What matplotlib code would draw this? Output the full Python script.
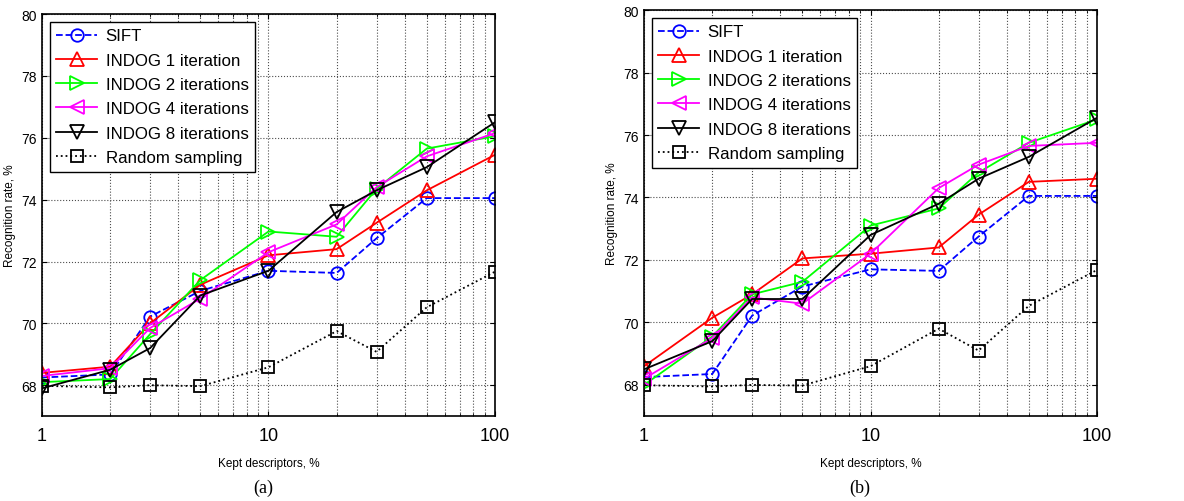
import numpy as np
import matplotlib
matplotlib.use('Agg')
import matplotlib.pyplot as plt
from matplotlib.ticker import LogLocator, NullFormatter, FixedLocator

# Kept descriptors (%)
kept = [1, 2, 3, 5, 10, 20, 30, 50, 100]

labels = ['SIFT', 'INDOG 1 iteration', 'INDOG 2 iterations',
          'INDOG 4 iterations', 'INDOG 8 iterations', 'Random sampling']

# Panel (a)
sift_a = [68.25, 68.35, 70.22, 71.05, 71.7, 71.63, 72.75, 74.05, 74.05]
indog1_a = [68.4, 68.6, 70.0, 71.25, 72.2, 72.4, 73.25, 74.3, 75.45]
indog2_a = [68.1, 68.2, 69.65, 71.4, 72.97, 72.8, 74.35, 75.65, 76.05]
indog4_a = [68.3, 68.55, 69.85, 70.8, 72.3, 73.2, 74.4, 75.4, 76.15]
indog8_a = [67.9, 68.5, 69.2, 70.9, 71.7, 73.6, 74.3, 75.05, 76.5]
random_a = [67.98, 67.93, 68.0, 67.97, 68.58, 69.75, 69.08, 70.52, 71.67]

# Panel (b)
sift_b = [68.25, 68.35, 70.22, 71.15, 71.7, 71.65, 72.75, 74.05, 74.05]
indog1_b = [68.6, 70.15, 70.9, 72.05, 72.2, 72.4, 73.45, 74.5, 74.6]
indog2_b = [68.0, 69.55, 70.9, 71.3, 73.1, 73.65, 74.8, 75.75, 76.5]
indog4_b = [68.2, 69.5, 70.8, 70.6, 72.2, 74.3, 75.05, 75.65, 75.75]
indog8_b = [68.5, 69.4, 70.75, 70.75, 72.8, 73.8, 74.6, 75.3, 76.55]
random_b = [67.99, 67.95, 68.0, 67.98, 68.6, 69.8, 69.1, 70.53, 71.68]

styles = [
    dict(color=(0, 0, 1), linestyle='--', marker='o', markersize=9),
    dict(color=(1, 0, 0), linestyle='-', marker='^', markersize=10),
    dict(color=(0, 1, 0), linestyle='-', marker='>', markersize=10),
    dict(color=(1, 0, 1), linestyle='-', marker='<', markersize=10),
    dict(color='k', linestyle='-', marker='v', markersize=10),
    dict(color='k', linestyle=':', marker='s', markersize=9),
]

plt.rcParams['font.family'] = ['Liberation Sans', 'DejaVu Sans']

fig = plt.figure(figsize=(11.84, 5.02), dpi=100)
ax_a = fig.add_axes([0.0355, 0.169, 0.3825, 0.801])
ax_b = fig.add_axes([0.544, 0.169, 0.3825, 0.809])


def draw_panel(ax, series, caption, cap_x):
    """Draw one MATLAB-style panel"""
    for s, lab, st in zip(series, labels, styles):
        ax.plot(kept, s, label=lab, linewidth=1.3, markerfacecolor='none',
                markeredgewidth=1.3, **st)
    ax.set_xscale('log')
    ax.set_xlim(1, 100)
    ax.set_ylim(67, 80)
    ax.yaxis.set_major_locator(FixedLocator([68, 70, 72, 74, 76, 78, 80]))
    ax.xaxis.set_major_locator(FixedLocator([1, 10, 100]))
    ax.set_xticklabels(['1', '10', '100'])
    ax.xaxis.set_minor_locator(LogLocator(base=10, subs=np.arange(2, 10)))
    ax.xaxis.set_minor_formatter(NullFormatter())
    ax.grid(True, which='major', linestyle=':', color='0.3', linewidth=0.8)
    ax.grid(True, which='minor', axis='x', linestyle=':', color='0.3', linewidth=0.8)
    ax.tick_params(which='both', direction='in', top=True, right=True)
    ax.tick_params(axis='x', which='major', labelsize=13, pad=8)
    ax.tick_params(axis='y', labelsize=10)
    for sp in ax.spines.values():
        sp.set_linewidth(1.2)
    ax.set_xlabel('Kept descriptors, %', fontsize=8.5, labelpad=9)
    ax.set_ylabel('Recognition rate, %', fontsize=8.5, labelpad=4)
    leg = ax.legend(loc='upper left', fontsize=12.2, handlelength=2.4,
                    fancybox=False, framealpha=1, edgecolor='k',
                    borderaxespad=0.45, labelspacing=0.55, handletextpad=0.5,
                    borderpad=0.4)
    leg.get_frame().set_linewidth(1.0)
    fig.text(cap_x, 0.028, caption, ha='center', va='center',
             fontsize=13, family='Liberation Serif')


draw_panel(ax_a, [sift_a, indog1_a, indog2_a, indog4_a, indog8_a, random_a], '(a)', 263 / 1184)
draw_panel(ax_b, [sift_b, indog1_b, indog2_b, indog4_b, indog8_b, random_b], '(b)', 860 / 1184)

fig.savefig('out.png', dpi=100)
